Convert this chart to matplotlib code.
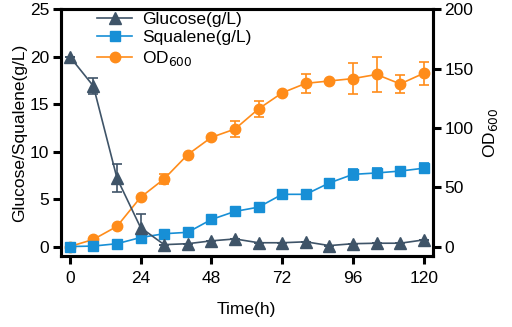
import numpy as np
import matplotlib
matplotlib.use("Agg")
import matplotlib.pyplot as plt

plt.rcParams['font.family'] = ['Liberation Sans', 'DejaVu Sans']

## DATA ##
time_h = [0, 8, 16, 24, 32, 40, 48, 56, 64, 72, 80, 88, 96, 104, 112, 120]

glucose = [20.0, 16.9, 7.2, 2.0, 0.2, 0.3, 0.6, 0.8, 0.4, 0.4, 0.5, 0.1, 0.3, 0.35, 0.35, 0.7]
glucose_err = [0, 0.8, 1.5, 1.4, 0, 0, 0, 0, 0, 0, 0, 0, 0, 0, 0, 0]

squalene = [0.0, 0.05, 0.3, 0.95, 1.35, 1.5, 2.85, 3.7, 4.15, 5.5, 5.5, 6.7, 7.6, 7.75, 7.95, 8.25]
squalene_err = [0, 0, 0, 0, 0, 0, 0, 0, 0, 0.25, 0.3, 0.4, 0.55, 0.5, 0.4, 0.5]

od600 = [0, 6, 17, 41.5, 57, 77.5, 92, 99, 116, 129.5, 137.5, 139.5, 141.5, 145, 137, 146]
od600_err = [0, 0, 0, 0, 4, 0, 0, 6.5, 7, 0, 8, 0, 13, 15, 7.5, 9.5]

C_GLU = "#3f5468"
C_SQU = "#178fd6"
C_OD = "#ff8c1a"

fig = plt.figure(figsize=(5.12, 3.27), dpi=100)
ax = fig.add_axes([0.119, 0.217, 0.726, 0.755])
ax2 = ax.twinx()

style = dict(lw=1.2, capsize=3.5, elinewidth=1.2, capthick=1.2)

# orange on the right axis, drawn underneath the left-axis series
l3 = ax2.errorbar(time_h, od600, yerr=od600_err, color=C_OD, marker="o", ms=7.5, **style)
l2 = ax.errorbar(time_h, squalene, yerr=squalene_err, color=C_SQU, marker="s", ms=7.5, **style)
l1 = ax.errorbar(time_h, glucose, yerr=glucose_err, color=C_GLU, marker="^", ms=8, **style)
ax.set_zorder(ax2.get_zorder() + 1)
ax.patch.set_visible(False)

ax.set_xlim(-3, 123)
ax.set_ylim(-1, 25)
ax2.set_ylim(-8, 200)
ax.set_xticks([0, 24, 48, 72, 96, 120])
ax.set_yticks([0, 5, 10, 15, 20, 25])
ax2.set_yticks([0, 50, 100, 150, 200])

for a in (ax, ax2):
    for s in a.spines.values():
        s.set_linewidth(2.2)
    a.tick_params(width=2.2, length=5.5, labelsize=12.5, pad=3, direction="out")
ax.tick_params(axis="x", pad=5)

ax.set_xlabel("Time(h)", fontsize=12.5, labelpad=12)
ax.set_ylabel("Glucose/Squalene(g/L)", fontsize=12.5, labelpad=2)
ax2.set_ylabel("OD$_{600}$", fontsize=12.5, labelpad=5)

ax.legend(handles=[l1[0], l2[0], l3[0]],
          labels=["Glucose(g/L)", "Squalene(g/L)", "OD$_{600}$"],
          loc="upper left", bbox_to_anchor=(0.065, 1.04),
          frameon=False, fontsize=12.5, handlelength=2.0, labelspacing=0.2,
          handletextpad=0.6, borderpad=0.2)

fig.savefig("out.png", dpi=100)
